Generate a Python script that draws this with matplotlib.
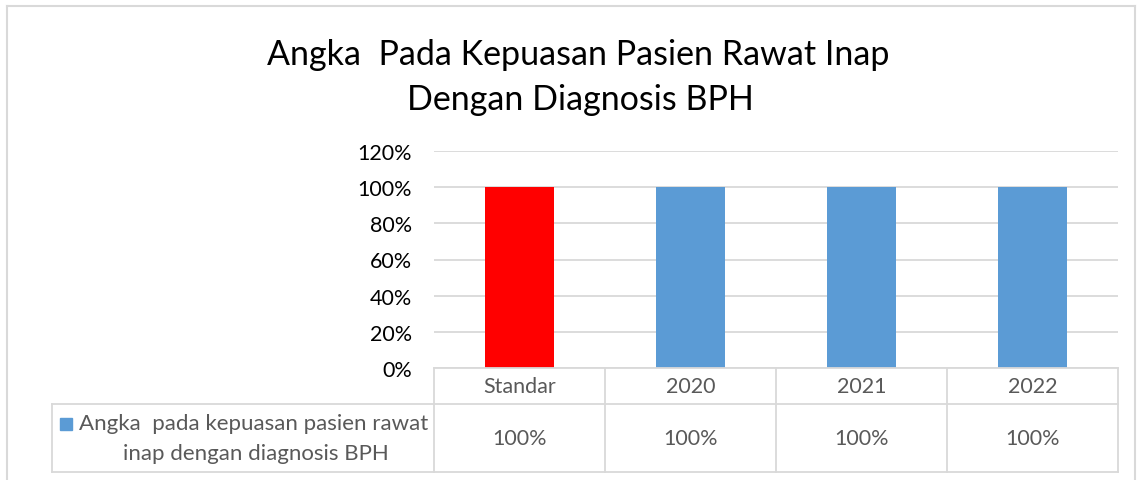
import matplotlib.pyplot as plt
from matplotlib.lines import Line2D
from matplotlib.patches import Rectangle
from matplotlib.ticker import PercentFormatter

categories = ['Standar', '2020', '2021', '2022']
values = [100, 100, 100, 100]
bar_colors = ['#ff0000', '#5b9bd5', '#5b9bd5', '#5b9bd5']
series_label = ['Angka  pada kepuasan pasien rawat', 'inap dengan diagnosis BPH']
title = ['Angka  Pada Kepuasan Pasien Rawat Inap', 'Dengan Diagnosis BPH']

W, H = 1141, 481
plt.rcParams['font.family'] = ['Lato', 'DejaVu Sans']

fig = plt.figure(figsize=(W / 100, H / 100), dpi=100)


def fx(px):
    return px / W


def fy(py):
    return 1 - py / H


# plot area in pixel coordinates
left, right, top, bottom = 434, 1118, 152, 369
ax = fig.add_axes([fx(left), fy(bottom), fx(right - left), (bottom - top) / H])
ax.bar(range(len(categories)), values, width=0.4, color=bar_colors, zorder=3)
ax.set_xlim(-0.5, len(categories) - 0.5)
ax.set_ylim(0, 120)
ax.set_yticks(range(0, 121, 20))
ax.yaxis.set_major_formatter(PercentFormatter(decimals=0))
ax.grid(axis='y', color='#d9d9d9', linewidth=1.3, zorder=0)
ax.set_xticks([])
ax.tick_params(axis='y', length=0, labelsize=15.5, colors='#000000', pad=16)
for s in ax.spines.values():
    s.set_visible(False)

# title, two centred lines
fig.text(fx(578), fy(55), title[0], ha='center', va='center', fontsize=24.5)
fig.text(fx(580), fy(100), title[1], ha='center', va='center', fontsize=24.5)

# data table
grid_col = '#d9d9d9'
col_edges = [left + i * (right - left) / len(categories) for i in range(len(categories) + 1)]
row_top, row_mid, row_bot = 369, 405, 473
table_left = 52


def hline(y, x0, x1):
    fig.add_artist(Line2D([fx(x0), fx(x1)], [fy(y), fy(y)], color=grid_col, lw=1.3))


def vline(x, y0, y1):
    fig.add_artist(Line2D([fx(x), fx(x)], [fy(y0), fy(y1)], color=grid_col, lw=1.3))


hline(row_top, left, right)
hline(row_mid, table_left, right)
hline(row_bot, table_left, right)
for x in col_edges:
    vline(x, row_top, row_bot)
vline(table_left, row_mid, row_bot)

for i, cat in enumerate(categories):
    cx = (col_edges[i] + col_edges[i + 1]) / 2
    fig.text(fx(cx), fy((row_top + row_mid) / 2), cat, ha='center', va='center',
             fontsize=15.5, color='#595959')
    fig.text(fx(cx), fy((row_mid + row_bot) / 2), f'{values[i]}%', ha='center',
             va='center', fontsize=15.5, color='#595959')

# legend key inside the table
fig.add_artist(Rectangle((fx(60), fy(431)), fx(12), 12 / H, color='#5b9bd5'))
fig.text(fx(254), fy(424), series_label[0], ha='center', va='center', fontsize=16,
         color='#595959')
fig.text(fx(256), fy(454), series_label[1], ha='center', va='center', fontsize=16,
         color='#595959')

# chart border
for seg in [([7, 7], [7, 481]), ([7, 1135], [7, 7]), ([1135, 1135], [7, 481])]:
    fig.add_artist(Line2D([fx(v) for v in seg[0]], [fy(v) for v in seg[1]],
                          color='#d9d9d9', lw=1.5))

fig.savefig('out.png', dpi=100)
